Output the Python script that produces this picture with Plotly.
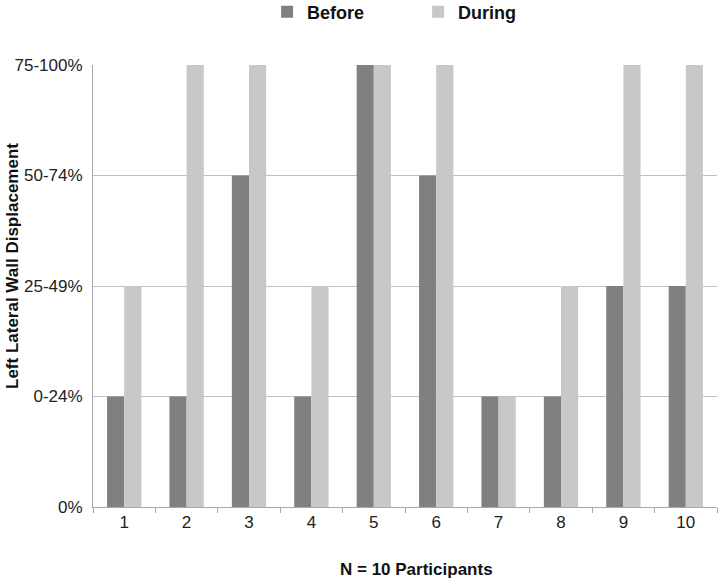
import plotly.graph_objects as go

participants = ["1", "2", "3", "4", "5", "6", "7", "8", "9", "10"]
before = [1, 1, 3, 1, 4, 3, 1, 1, 2, 2]
during = [2, 4, 4, 2, 4, 4, 1, 2, 4, 4]
level_vals = [0, 1, 2, 3, 4]
level_labels = ["0%", "0-24%", "25-49%", "50-74%", "75-100%"]

FONT = "Liberation Sans, Arial, sans-serif"

fig = go.Figure()
fig.add_trace(go.Bar(name="Before", x=participants, y=before,
                     marker=dict(color="#808080", line=dict(width=0))))
fig.add_trace(go.Bar(name="During", x=participants, y=during,
                     marker=dict(color="#c8c8c8", line=dict(width=0))))

fig.update_layout(
    width=718, height=580,
    margin=dict(l=93, r=1, t=65, b=73, autoexpand=False),
    paper_bgcolor="white", plot_bgcolor="white",
    barmode="group", bargap=0.45, bargroupgap=0,
    font=dict(family=FONT, size=17, color="#222222"),
    legend=dict(orientation="h", xref="container", yref="container",
                x=0.372, y=1 - 12 / 580, xanchor="left", yanchor="middle",
                font=dict(family=FONT, size=18, color="#111111", weight="bold"),
                entrywidth=106, entrywidthmode="pixels"),
    xaxis=dict(
        type="category", automargin=False,
        showline=True, linecolor="#a8a8a8", linewidth=1,
        ticks="outside", tickson="boundaries", ticklen=5, tickcolor="#a8a8a8",
        tickfont=dict(size=17, color="#222222"),
        showgrid=False,
    ),
    yaxis=dict(
        range=[0, 4], automargin=False,
        tickvals=level_vals, ticktext=level_labels,
        showgrid=True, gridcolor="#c0c0c0", gridwidth=1,
        showline=True, linecolor="#a8a8a8", linewidth=1,
        zeroline=False,
        ticks="", ticklabelstandoff=6,
        tickfont=dict(size=17, color="#222222"),
    ),
    annotations=[
        dict(text="<b>Left Lateral Wall Displacement</b>", textangle=-90,
             xref="paper", yref="paper", x=-0.13, y=0.545,
             xanchor="center", yanchor="middle", showarrow=False,
             font=dict(size=17, color="#111111")),
        dict(text="<b>N = 10 Participants</b>",
             xref="paper", yref="paper", x=0.519, y=-0.1425,
             xanchor="center", yanchor="middle", showarrow=False,
             font=dict(size=17, color="#111111")),
    ],
)

fig.write_html("out.html",
               config={"displayModeBar": False},
               post_script="document.body.style.margin='0';document.body.style.overflow='hidden';")
